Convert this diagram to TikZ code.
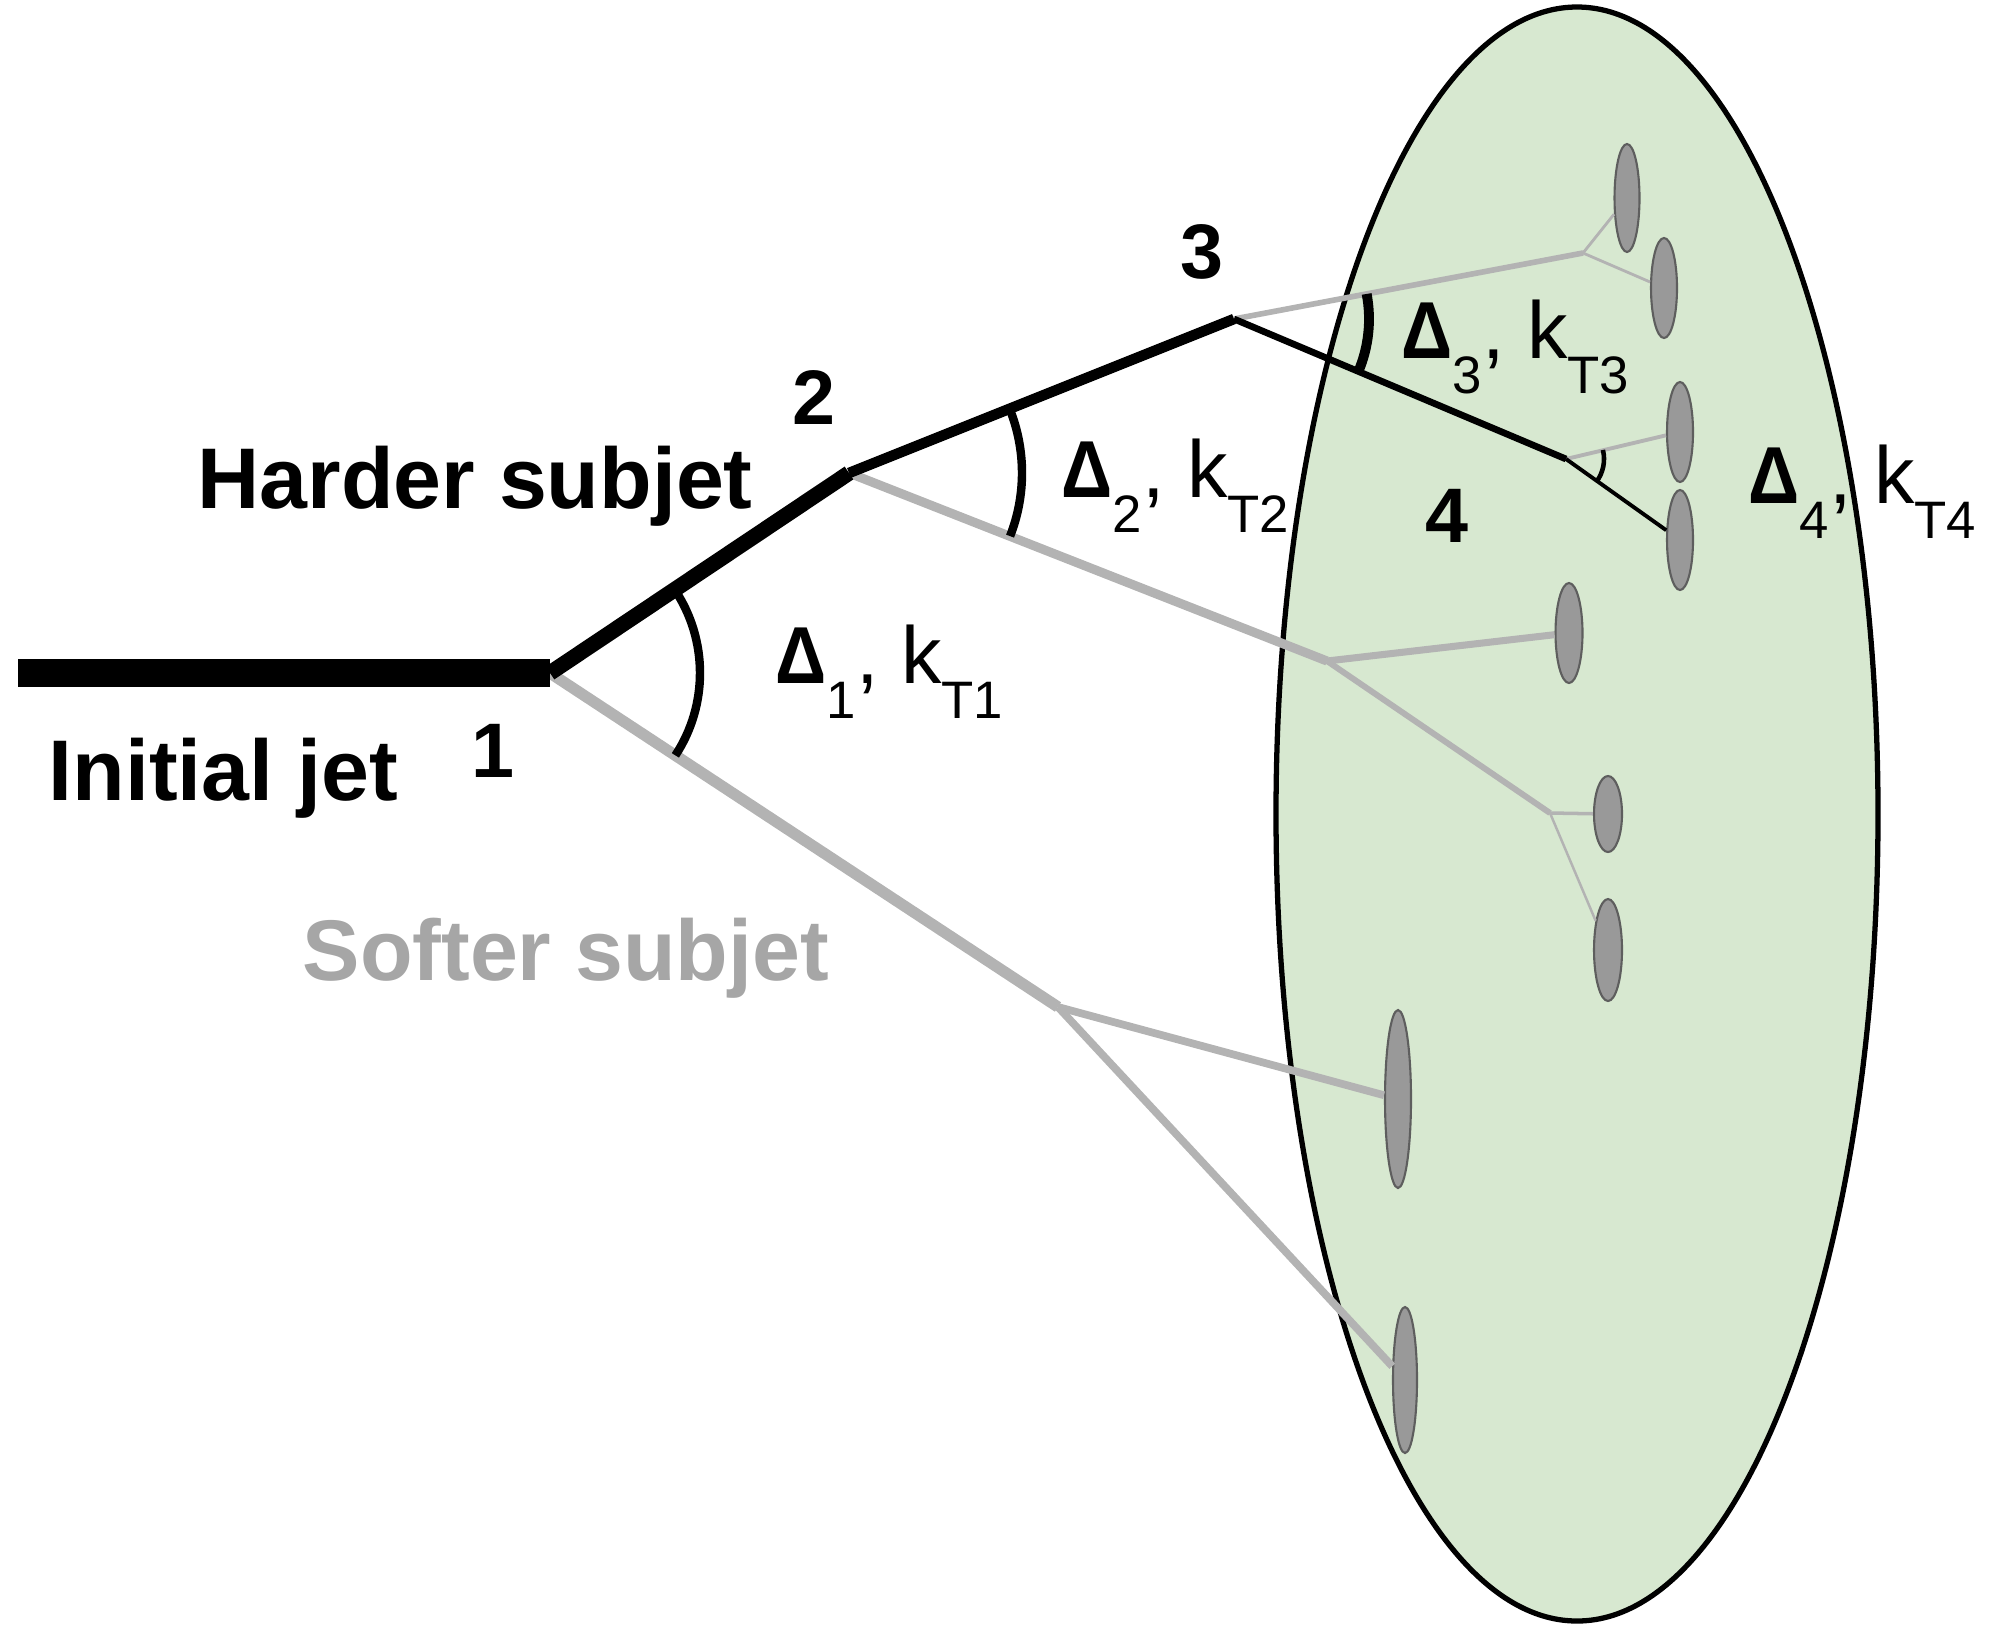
\documentclass[tikz,border=0pt]{standalone}
\usepackage{fontspec}
\setmainfont{Liberation Sans}
\usepackage{graphicx}
\usepackage{tikz}
\usetikzlibrary{shapes.geometric}
\definecolor{conegreen}{HTML}{D7E8D0}
\definecolor{softgray}{HTML}{B3B3B3}
\definecolor{softtext}{HTML}{A6A6A6}
\definecolor{hadronfill}{HTML}{999999}
\definecolor{hadronedge}{HTML}{5E5E5E}
\newcommand{\lowsub}[1]{\raisebox{-10pt}{\fontsize{15}{15}\selectfont #1}}
\newcommand{\dlt}{\scalebox{0.88}[1]{\bfseries Δ}}

\begin{document}
\begin{tikzpicture}[x=0.1mm,y=-0.1mm,
  hadron/.style={ellipse,draw=hadronedge,fill=hadronfill,line width=0.6pt,inner sep=0pt},
  soft/.style={softgray},
  splitarc/.style={line width=2.4pt},
  bignum/.style={font=\fontsize{22}{26}\selectfont\bfseries,inner sep=0pt,anchor=base},
  jetlabel/.style={font=\fontsize{24.5}{28}\selectfont\bfseries,inner sep=0pt,anchor=base west},
  kinlabel/.style={font=\fontsize{23}{27}\selectfont,inner sep=0pt,anchor=base west}]
  \useasboundingbox (0,0) rectangle (1999,1626);
  \draw[line width=1.5pt,fill=conegreen] (1577,814) ellipse [x radius=301, y radius=807];

  \coordinate (start) at (18,673);
  \coordinate (v1) at (550,673);
  \coordinate (v2) at (849,473);
  \coordinate (v3) at (1234,319);
  \coordinate (v4) at (1566,459);
  \coordinate (b1) at (1058,1007);
  \coordinate (b2) at (1327,661);
  \coordinate (b2b) at (1550,813);
  \coordinate (b3) at (1583,253);

  \node[hadron,minimum width=2.5mm,minimum height=10.8mm] (p3a) at (1627,198) {};
  \node[hadron,minimum width=2.6mm,minimum height=10mm] (p3b) at (1664,288) {};
  \node[hadron,minimum width=2.6mm,minimum height=10mm] (p4a) at (1680,432) {};
  \node[hadron,minimum width=2.6mm,minimum height=10mm] (p4b) at (1680,540) {};
  \node[hadron,minimum width=2.7mm,minimum height=10mm] (p2a) at (1569,633) {};
  \node[hadron,minimum width=2.8mm,minimum height=7.6mm] (p2b) at (1608,814) {};
  \node[hadron,minimum width=2.8mm,minimum height=10.2mm] (p2c) at (1608,950) {};
  \node[hadron,minimum width=2.6mm,minimum height=17.8mm] (p1a) at (1398,1099) {};
  \node[hadron,minimum width=2.4mm,minimum height=14.6mm] (p1b) at (1405,1380) {};

  \draw[soft,line width=3.2pt] (v1) -- (b1);
  \draw[soft,line width=2.2pt] (b1) -- (p1a);
  \draw[soft,line width=2.2pt] (b1) -- (p1b);
  \draw[soft,line width=2.6pt] (v2) -- (b2);
  \draw[soft,line width=2pt] (b2) -- (p2a);
  \draw[soft,line width=1.7pt] (b2) -- (b2b);
  \draw[soft,line width=1pt] (b2b) -- (p2b);
  \draw[soft,line width=0.7pt] (b2b) -- (p2c);
  \draw[soft,line width=1.6pt] (v3) -- (b3);
  \draw[soft,line width=0.8pt] (b3) -- (p3a);
  \draw[soft,line width=0.8pt] (b3) -- (p3b);
  \draw[soft,line width=1.1pt] (v4) -- (p4a);

  \draw[line width=8pt] (start) -- (v1);
  \draw[line width=4.4pt] (v1) -- (v2);
  \draw[line width=3pt] (v2) -- (v3);
  \draw[line width=1.9pt] (v3) -- (v4);
  \draw[line width=1.1pt] (v4) -- (p4b);

  \draw[splitarc] (v1) ++(-33.8:150) arc[start angle=-33.8,end angle=33.3,radius=150];
  \draw[splitarc] (v2) ++(-21.8:173) arc[start angle=-21.8,end angle=21.4,radius=173];
  \draw[splitarc,line width=2.8pt] (v3) ++(-10.7:135) arc[start angle=-10.7,end angle=22.9,radius=135];
  \draw[line width=1.3pt] (v4) ++(-13.8:38) arc[start angle=-13.8,end angle=36.5,radius=38];

  \node[jetlabel] (initial) at (48,800) {Initial jet};
  \node[jetlabel] (harder) at (197,508) {Harder subjet};
  \node[jetlabel,text=softtext] (softer) at (302,980) {Softer subjet};
  \node[bignum] (n1) at (493,777) {1};
  \node[bignum] (n2) at (814,424) {2};
  \node[bignum] (n3) at (1202,278) {3};
  \node[bignum] (n4) at (1447,542) {4};
  \node[kinlabel] (d1) at (775,683) {\dlt\lowsub{1}, k\lowsub{T1}};
  \node[kinlabel] (d2) at (1061,497) {\dlt\lowsub{2}, k\lowsub{T2}};
  \node[kinlabel] (d3) at (1401,358) {\dlt\lowsub{3}, k\lowsub{T3}};
  \node[kinlabel] (d4) at (1748,503) {\dlt\lowsub{4}, k\lowsub{T4}};
\end{tikzpicture}
\end{document}
